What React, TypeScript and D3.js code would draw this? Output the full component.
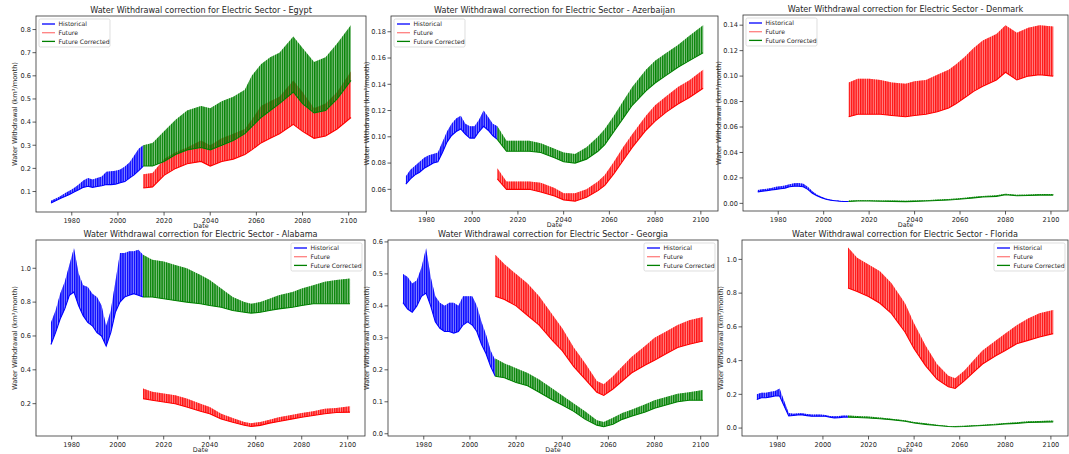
import React from 'react';
import * as d3 from 'd3';

// ---------- shared axes values ----------
const HIST_YEARS = [1971, 1973, 1975, 1977, 1979, 1981, 1983, 1985, 1987, 1989, 1991, 1993, 1995, 1997, 1999, 2001, 2003, 2005, 2007, 2009, 2011];
const FUT_YEARS = [2011, 2015, 2020, 2025, 2030, 2036, 2040, 2045, 2050, 2055, 2058, 2062, 2066, 2070, 2076, 2080, 2085, 2090, 2095, 2101];
const X_TICKS = [1980, 2000, 2020, 2040, 2060, 2080, 2100];
const SERIES_NAMES = ['Historical', 'Future', 'Future Corrected'];

// ---------- Egypt ----------
const EGYPT_HIST_LOW = [0.05, 0.06, 0.07, 0.078, 0.087, 0.098, 0.108, 0.118, 0.123, 0.118, 0.122, 0.125, 0.13, 0.13, 0.132, 0.138, 0.143, 0.158, 0.172, 0.19, 0.21];
const EGYPT_HIST_HIGH = [0.06, 0.07, 0.08, 0.092, 0.103, 0.115, 0.13, 0.148, 0.158, 0.152, 0.158, 0.165, 0.185, 0.188, 0.19, 0.195, 0.208, 0.225, 0.255, 0.285, 0.30];
const EGYPT_FUT_LOW = [0.115, 0.12, 0.17, 0.2, 0.22, 0.23, 0.21, 0.23, 0.24, 0.26, 0.28, 0.31, 0.33, 0.35, 0.39, 0.36, 0.33, 0.34, 0.37, 0.42];
const EGYPT_FUT_HIGH = [0.175, 0.18, 0.24, 0.27, 0.29, 0.32, 0.30, 0.33, 0.35, 0.37, 0.41, 0.47, 0.49, 0.51, 0.58, 0.53, 0.46, 0.48, 0.53, 0.62];
const EGYPT_COR_LOW = [0.21, 0.21, 0.23, 0.26, 0.28, 0.29, 0.28, 0.30, 0.32, 0.35, 0.38, 0.42, 0.45, 0.48, 0.53, 0.48, 0.44, 0.45, 0.50, 0.58];
const EGYPT_COR_HIGH = [0.30, 0.31, 0.36, 0.41, 0.45, 0.47, 0.46, 0.49, 0.51, 0.54, 0.60, 0.65, 0.68, 0.70, 0.77, 0.72, 0.66, 0.68, 0.74, 0.82];
const EGYPT_Y_TICKS = [0.1, 0.2, 0.3, 0.4, 0.5, 0.6, 0.7, 0.8];

// ---------- Azerbaijan ----------
const AZE_HIST_LOW = [0.064, 0.068, 0.071, 0.073, 0.076, 0.078, 0.080, 0.081, 0.088, 0.096, 0.101, 0.104, 0.106, 0.102, 0.099, 0.099, 0.104, 0.108, 0.105, 0.101, 0.098];
const AZE_HIST_HIGH = [0.070, 0.075, 0.078, 0.081, 0.084, 0.086, 0.087, 0.088, 0.096, 0.104, 0.110, 0.114, 0.116, 0.110, 0.108, 0.108, 0.113, 0.120, 0.115, 0.110, 0.108];
const AZE_FUT_LOW = [0.068, 0.060, 0.060, 0.060, 0.058, 0.055, 0.052, 0.051, 0.054, 0.059, 0.063, 0.072, 0.082, 0.092, 0.105, 0.112, 0.119, 0.125, 0.130, 0.137];
const AZE_FUT_HIGH = [0.076, 0.066, 0.066, 0.066, 0.065, 0.061, 0.057, 0.057, 0.060, 0.066, 0.071, 0.081, 0.092, 0.102, 0.116, 0.124, 0.131, 0.138, 0.143, 0.151];
const AZE_COR_LOW = [0.098, 0.089, 0.089, 0.089, 0.088, 0.084, 0.081, 0.080, 0.083, 0.089, 0.094, 0.104, 0.114, 0.124, 0.135, 0.141, 0.147, 0.153, 0.158, 0.164];
const AZE_COR_HIGH = [0.108, 0.097, 0.097, 0.097, 0.095, 0.091, 0.088, 0.087, 0.092, 0.100, 0.106, 0.116, 0.127, 0.138, 0.151, 0.158, 0.164, 0.170, 0.177, 0.185];
const AZE_Y_TICKS = [0.06, 0.08, 0.10, 0.12, 0.14, 0.16, 0.18];

// ---------- Denmark ----------
const DEN_HIST_LOW = [0.009, 0.0095, 0.010, 0.0105, 0.011, 0.0115, 0.012, 0.013, 0.0135, 0.0135, 0.013, 0.011, 0.008, 0.006, 0.0045, 0.0032, 0.0025, 0.002, 0.0017, 0.0015, 0.0015];
const DEN_HIST_HIGH = [0.0105, 0.011, 0.0115, 0.012, 0.013, 0.0135, 0.014, 0.015, 0.0158, 0.016, 0.0155, 0.013, 0.0095, 0.007, 0.0052, 0.0038, 0.003, 0.0025, 0.002, 0.0018, 0.0018];
const DEN_FUT_LOW = [0.068, 0.070, 0.070, 0.070, 0.069, 0.068, 0.069, 0.070, 0.072, 0.075, 0.078, 0.083, 0.088, 0.092, 0.097, 0.103, 0.097, 0.100, 0.101, 0.100];
const DEN_FUT_HIGH = [0.095, 0.098, 0.098, 0.097, 0.095, 0.094, 0.096, 0.097, 0.101, 0.105, 0.109, 0.115, 0.122, 0.128, 0.133, 0.140, 0.134, 0.138, 0.140, 0.139];
const DEN_COR_LOW = [0.0015, 0.0018, 0.0018, 0.0017, 0.0016, 0.0014, 0.0016, 0.0019, 0.0023, 0.0027, 0.003, 0.0036, 0.0043, 0.005, 0.0055, 0.0068, 0.006, 0.0062, 0.0065, 0.0065];
const DEN_COR_HIGH = [0.0022, 0.0024, 0.0024, 0.0023, 0.0022, 0.002, 0.0022, 0.0025, 0.003, 0.0035, 0.0038, 0.0045, 0.0052, 0.0058, 0.0063, 0.0076, 0.0068, 0.007, 0.0073, 0.0073];
const DEN_Y_TICKS = [0.0, 0.02, 0.04, 0.06, 0.08, 0.10, 0.12, 0.14];

// ---------- Alabama ----------
const ALA_HIST_LOW = [0.55, 0.62, 0.70, 0.76, 0.84, 0.86, 0.78, 0.72, 0.68, 0.66, 0.62, 0.60, 0.54, 0.62, 0.74, 0.80, 0.83, 0.84, 0.85, 0.84, 0.83];
const ALA_HIST_HIGH = [0.68, 0.75, 0.85, 0.92, 1.02, 1.12, 0.97, 0.90, 0.89, 0.85, 0.83, 0.78, 0.66, 0.75, 0.92, 1.09, 1.09, 1.10, 1.10, 1.11, 1.08];
const ALA_FUT_LOW = [0.23, 0.22, 0.21, 0.20, 0.18, 0.155, 0.14, 0.11, 0.09, 0.072, 0.065, 0.072, 0.085, 0.095, 0.11, 0.12, 0.13, 0.14, 0.148, 0.15];
const ALA_FUT_HIGH = [0.29, 0.27, 0.26, 0.25, 0.23, 0.20, 0.18, 0.14, 0.115, 0.092, 0.085, 0.092, 0.105, 0.12, 0.135, 0.145, 0.155, 0.17, 0.175, 0.185];
const ALA_COR_LOW = [0.83, 0.83, 0.82, 0.81, 0.80, 0.79, 0.78, 0.77, 0.75, 0.74, 0.735, 0.74, 0.75, 0.76, 0.77, 0.78, 0.79, 0.79, 0.79, 0.79];
const ALA_COR_HIGH = [1.08, 1.05, 1.04, 1.02, 1.00, 0.96, 0.93, 0.88, 0.83, 0.80, 0.79, 0.80, 0.82, 0.84, 0.86, 0.88, 0.90, 0.92, 0.93, 0.94];
const ALA_Y_TICKS = [0.2, 0.4, 0.6, 0.8, 1.0];

// ---------- Georgia ----------
const GEO_HIST_LOW = [0.41, 0.39, 0.38, 0.40, 0.43, 0.44, 0.40, 0.35, 0.33, 0.32, 0.32, 0.315, 0.32, 0.34, 0.35, 0.34, 0.32, 0.28, 0.25, 0.21, 0.18];
const GEO_HIST_HIGH = [0.50, 0.49, 0.47, 0.48, 0.52, 0.58, 0.49, 0.43, 0.41, 0.40, 0.41, 0.41, 0.40, 0.43, 0.43, 0.43, 0.40, 0.35, 0.31, 0.26, 0.23];
const GEO_FUT_LOW = [0.43, 0.42, 0.40, 0.37, 0.34, 0.29, 0.26, 0.21, 0.17, 0.13, 0.12, 0.14, 0.165, 0.19, 0.215, 0.23, 0.25, 0.27, 0.28, 0.29];
const GEO_FUT_HIGH = [0.56, 0.53, 0.50, 0.47, 0.43, 0.37, 0.33, 0.27, 0.22, 0.165, 0.155, 0.18, 0.21, 0.24, 0.275, 0.30, 0.32, 0.34, 0.355, 0.365];
const GEO_COR_LOW = [0.18, 0.175, 0.16, 0.15, 0.13, 0.105, 0.09, 0.07, 0.045, 0.027, 0.022, 0.03, 0.045, 0.055, 0.068, 0.08, 0.09, 0.10, 0.105, 0.105];
const GEO_COR_HIGH = [0.235, 0.22, 0.205, 0.19, 0.17, 0.14, 0.12, 0.095, 0.07, 0.042, 0.037, 0.05, 0.065, 0.075, 0.092, 0.105, 0.115, 0.125, 0.13, 0.137];
const GEO_Y_TICKS = [0.0, 0.1, 0.2, 0.3, 0.4, 0.5, 0.6];

// ---------- Florida ----------
const FLA_HIST_LOW = [0.17, 0.18, 0.18, 0.185, 0.19, 0.19, 0.13, 0.072, 0.075, 0.078, 0.078, 0.074, 0.07, 0.07, 0.07, 0.07, 0.065, 0.06, 0.062, 0.065, 0.065];
const FLA_HIST_HIGH = [0.20, 0.21, 0.21, 0.215, 0.22, 0.235, 0.16, 0.09, 0.085, 0.088, 0.088, 0.083, 0.08, 0.08, 0.08, 0.078, 0.072, 0.07, 0.072, 0.075, 0.075];
const FLA_FUT_LOW = [0.83, 0.81, 0.78, 0.74, 0.68, 0.57, 0.47, 0.37, 0.29, 0.245, 0.235, 0.28, 0.33, 0.38, 0.43, 0.46, 0.50, 0.52, 0.54, 0.56];
const FLA_FUT_HIGH = [1.07, 1.01, 0.97, 0.93, 0.86, 0.74, 0.62, 0.49, 0.38, 0.31, 0.295, 0.34, 0.40, 0.46, 0.52, 0.56, 0.61, 0.65, 0.68, 0.70];
const FLA_COR_LOW = [0.065, 0.063, 0.06, 0.055, 0.05, 0.04, 0.03, 0.022, 0.015, 0.009, 0.008, 0.009, 0.012, 0.015, 0.02, 0.025, 0.028, 0.033, 0.035, 0.037];
const FLA_COR_HIGH = [0.075, 0.071, 0.068, 0.062, 0.056, 0.046, 0.036, 0.028, 0.02, 0.013, 0.012, 0.014, 0.017, 0.02, 0.026, 0.03, 0.034, 0.04, 0.042, 0.045];
const FLA_Y_TICKS = [0.0, 0.2, 0.4, 0.6, 0.8, 1.0];

// ---------- layout / style ----------
const W = 1069;
const H = 454;
const FONT = 'DejaVu Sans, sans-serif';
const TEXT = '#262626';
const COLORS = ['#0000ff', '#ff0000', '#008000'];

type Band = { years: number[]; low: number[]; high: number[] };
type PanelCfg = {
  name: string;
  box: [number, number, number, number];
  yDomain: [number, number];
  yTicks: number[];
  fmt: string;
  legend: 'left' | 'right';
  bands: Band[];
};

const PANELS: PanelCfg[] = [
  { name: 'Egypt', box: [36, 16, 366, 212], yDomain: [0.0115, 0.8585], yTicks: EGYPT_Y_TICKS, fmt: '.1f', legend: 'left',
    bands: [
      { years: HIST_YEARS, low: EGYPT_HIST_LOW, high: EGYPT_HIST_HIGH },
      { years: FUT_YEARS, low: EGYPT_FUT_LOW, high: EGYPT_FUT_HIGH },
      { years: FUT_YEARS, low: EGYPT_COR_LOW, high: EGYPT_COR_HIGH },
    ] },
  { name: 'Azerbaijan', box: [391, 16, 718, 211], yDomain: [0.0435, 0.192], yTicks: AZE_Y_TICKS, fmt: '.2f', legend: 'left',
    bands: [
      { years: HIST_YEARS, low: AZE_HIST_LOW, high: AZE_HIST_HIGH },
      { years: FUT_YEARS, low: AZE_FUT_LOW, high: AZE_FUT_HIGH },
      { years: FUT_YEARS, low: AZE_COR_LOW, high: AZE_COR_HIGH },
    ] },
  { name: 'Denmark', box: [743, 15, 1068, 211], yDomain: [-0.006, 0.148], yTicks: DEN_Y_TICKS, fmt: '.2f', legend: 'left',
    bands: [
      { years: HIST_YEARS, low: DEN_HIST_LOW, high: DEN_HIST_HIGH },
      { years: FUT_YEARS, low: DEN_FUT_LOW, high: DEN_FUT_HIGH },
      { years: FUT_YEARS, low: DEN_COR_LOW, high: DEN_COR_HIGH },
    ] },
  { name: 'Alabama', box: [36, 240, 365, 436], yDomain: [0.009, 1.167], yTicks: ALA_Y_TICKS, fmt: '.1f', legend: 'right',
    bands: [
      { years: HIST_YEARS, low: ALA_HIST_LOW, high: ALA_HIST_HIGH },
      { years: FUT_YEARS, low: ALA_FUT_LOW, high: ALA_FUT_HIGH },
      { years: FUT_YEARS, low: ALA_COR_LOW, high: ALA_COR_HIGH },
    ] },
  { name: 'Georgia', box: [388, 240, 718, 436], yDomain: [-0.007, 0.606], yTicks: GEO_Y_TICKS, fmt: '.1f', legend: 'right',
    bands: [
      { years: HIST_YEARS, low: GEO_HIST_LOW, high: GEO_HIST_HIGH },
      { years: FUT_YEARS, low: GEO_FUT_LOW, high: GEO_FUT_HIGH },
      { years: FUT_YEARS, low: GEO_COR_LOW, high: GEO_COR_HIGH },
    ] },
  { name: 'Florida', box: [742, 240, 1068, 436], yDomain: [-0.047, 1.115], yTicks: FLA_Y_TICKS, fmt: '.1f', legend: 'right',
    bands: [
      { years: HIST_YEARS, low: FLA_HIST_LOW, high: FLA_HIST_HIGH },
      { years: FUT_YEARS, low: FLA_FUT_LOW, high: FLA_FUT_HIGH },
      { years: FUT_YEARS, low: FLA_COR_LOW, high: FLA_COR_HIGH },
    ] },
];

type Pt = { t: number; lo: number; hi: number };

function Panel({ cfg, idx }: { cfg: PanelCfg; idx: number }) {
  const [x0, y0, x1, y1] = cfg.box;
  const x = d3.scaleLinear().domain([1964.5, 2107.5]).range([x0, x1]);
  const y = d3.scaleLinear().domain(cfg.yDomain).range([y1, y0]);
  const fmt = d3.format(cfg.fmt);
  const step = x(1972) - x(1971);
  const area = d3.area<Pt>().x((d) => x(d.t)).y0((d) => y(d.lo)).y1((d) => y(d.hi));
  const base = d3.line<Pt>().x((d) => x(d.t)).y((d) => y(d.lo));
  const maxLabel = d3.max(cfg.yTicks, (t) => fmt(t).length) || 3;
  const yLabelX = x0 - (maxLabel * 3.6 + 8);
  const legW = 71;
  const legH = 28;
  const legX = cfg.legend === 'left' ? x0 + 3 : x1 - 3 - legW;
  const legY = y0 + 3;

  return (
    <g>
      <defs>
        {COLORS.map((c, i) => (
          <pattern key={i} id={`st-${idx}-${i}`} patternUnits="userSpaceOnUse" x={x(1971)} y={0} width={step} height={20}>
            <rect x={0} y={0} width={step * 0.6} height={20} fill={c} />
          </pattern>
        ))}
      </defs>
      {cfg.bands.map((b, i) => {
        const pts: Pt[] = b.years.map((t, k) => ({ t, lo: b.low[k], hi: b.high[k] }));
        return (
          <g key={i}>
            <path d={area(pts) || ''} fill={COLORS[i]} fillOpacity={0.45} />
            <path d={area(pts) || ''} fill={`url(#st-${idx}-${i})`} fillOpacity={i === 1 ? 0.85 : 0.95} />
            <path d={base(pts) || ''} fill="none" stroke={COLORS[i]} strokeWidth={1.1} />
          </g>
        );
      })}
      {/* frame */}
      <rect x={x0} y={y0} width={x1 - x0} height={y1 - y0} fill="none" stroke="#333" strokeWidth={0.8} />
      {/* x ticks */}
      {X_TICKS.map((t) => (
        <g key={t}>
          <line x1={x(t)} x2={x(t)} y1={y1} y2={y1 + 3.5} stroke="#333" strokeWidth={0.8} />
          <text x={x(t)} y={y1 + 10.5} textAnchor="middle" fontSize={6.6} fill={TEXT} fontFamily={FONT}>{t}</text>
        </g>
      ))}
      {/* y ticks */}
      {cfg.yTicks.map((t) => (
        <g key={t}>
          <line x1={x0 - 3.5} x2={x0} y1={y(t)} y2={y(t)} stroke="#333" strokeWidth={0.8} />
          <text x={x0 - 5} y={y(t)} dy="0.35em" textAnchor="end" fontSize={6.6} fill={TEXT} fontFamily={FONT}>{fmt(t)}</text>
        </g>
      ))}
      <text x={(x0 + x1) / 2} y={y1 + 16.4} textAnchor="middle" fontSize={6.4} fill={TEXT} fontFamily={FONT}>Date</text>
      <text transform={`translate(${yLabelX},${(y0 + y1) / 2}) rotate(-90)`} textAnchor="middle" fontSize={6.7} fill={TEXT} fontFamily={FONT}>
        Water Withdrawal (km³/month)
      </text>
      <text x={(x0 + x1) / 2} y={y0 - 3} textAnchor="middle" fontSize={8.1} fill={TEXT} fontFamily={FONT}>
        {`Water Withdrawal correction for Electric Sector - ${cfg.name}`}
      </text>
      {/* legend */}
      <g>
        <rect x={legX} y={legY} width={legW} height={legH} rx={1.5} fill="#fff" fillOpacity={0.8} stroke="#d0d0d0" strokeWidth={0.7} />
        {SERIES_NAMES.map((n, i) => (
          <g key={n}>
            <line x1={legX + 3} x2={legX + 16} y1={legY + 5 + i * 8.7} y2={legY + 5 + i * 8.7} stroke={COLORS[i]} strokeOpacity={i === 1 ? 0.5 : 1} strokeWidth={1.3} />
            <text x={legX + 19.5} y={legY + 5 + i * 8.7} dy="0.35em" fontSize={6.1} fill={TEXT} fontFamily={FONT}>{n}</text>
          </g>
        ))}
      </g>
    </g>
  );
}

export default function App() {
  return (
    <div style={{ position: 'absolute', left: 0, top: 0 }}>
      <svg width={W} height={H} viewBox={`0 0 ${W} ${H}`} style={{ display: 'block', background: '#fff' }}>
        <rect x={0} y={0} width={W} height={H} fill="#fff" />
        {PANELS.map((p, i) => (
          <Panel key={p.name} cfg={p} idx={i} />
        ))}
      </svg>
    </div>
  );
}
